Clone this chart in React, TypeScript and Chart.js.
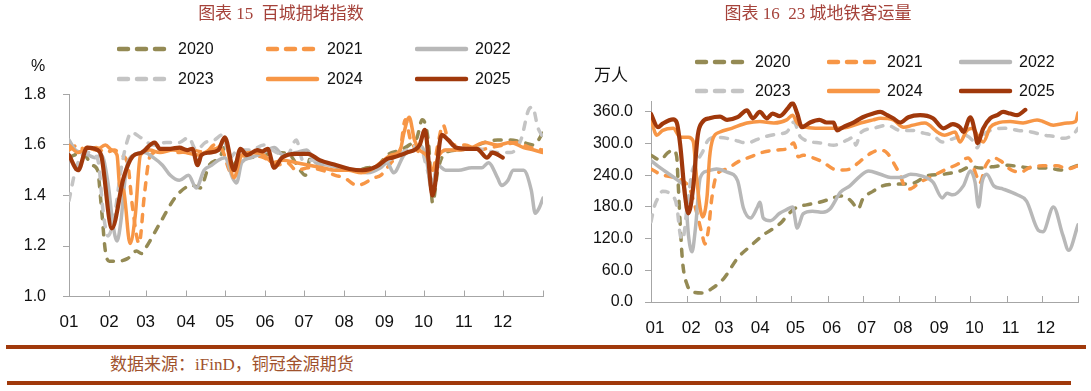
import React, { useEffect, useRef } from 'react';
import { Chart, registerables } from 'chart.js';

Chart.register(...registerables);

// ---------------- data ----------------
const years = ['2020', '2021', '2022', '2023', '2024', '2025'];
const monthStartDays = [0, 31, 59, 90, 120, 151, 181, 212, 243, 273, 304, 334];
const monthLabels = ['01', '02', '03', '04', '05', '06', '07', '08', '09', '10', '11', '12'];
const congestionTicks = [1.0, 1.2, 1.4, 1.6, 1.8];
const metroTicks = [0, 60, 120, 180, 240, 300, 360];

// 百城拥堵指数 (day of year, value)
const cDays2020 = [0, 10, 18, 22, 25, 28, 31, 38, 45, 52, 56, 60, 70, 83, 95, 101, 108, 116, 121, 126, 130, 140, 150, 160, 170, 178, 182, 186, 192, 200, 210, 220, 230, 238, 245, 255, 262, 268, 272, 277, 280, 284, 290, 300, 310, 320, 330, 340, 350, 358, 365];
const c2020 = [1.55, 1.57, 1.52, 1.5, 1.35, 1.18, 1.14, 1.14, 1.15, 1.18, 1.17, 1.2, 1.29, 1.4, 1.44, 1.43, 1.52, 1.55, 1.6, 1.52, 1.54, 1.55, 1.56, 1.57, 1.56, 1.5, 1.48, 1.55, 1.53, 1.52, 1.51, 1.5, 1.51, 1.52, 1.56, 1.58, 1.6, 1.63, 1.7, 1.6, 1.37, 1.5, 1.57, 1.58, 1.59, 1.61, 1.62, 1.62, 1.61, 1.6, 1.65];
const cDays2021 = [0, 7, 14, 21, 28, 35, 40, 45, 49, 54, 58, 62, 66, 75, 85, 95, 105, 112, 118, 125, 132, 140, 150, 160, 168, 175, 185, 195, 205, 212, 222, 235, 240, 248, 255, 259, 263, 268, 274, 280, 284, 288, 292, 298, 305, 315, 325, 335, 345, 355, 365];
const c2021 = [1.58, 1.6, 1.57, 1.59, 1.57, 1.58, 1.56, 1.53, 1.35, 1.21, 1.4, 1.55, 1.57, 1.58, 1.57, 1.58, 1.57, 1.6, 1.58, 1.49, 1.55, 1.56, 1.55, 1.52, 1.53, 1.5, 1.51, 1.5, 1.48, 1.47, 1.44, 1.47, 1.48, 1.53, 1.58, 1.7, 1.62, 1.58, 1.55, 1.5, 1.6, 1.68, 1.62, 1.6, 1.6, 1.58, 1.59, 1.6, 1.61, 1.59, 1.58];
const cDays2022 = [0, 5, 10, 15, 20, 25, 30, 34, 37, 40, 44, 50, 58, 65, 72, 78, 85, 92, 98, 104, 110, 115, 120, 126, 129, 133, 140, 150, 158, 165, 175, 183, 190, 200, 210, 220, 230, 240, 245, 250, 258, 265, 270, 275, 279, 284, 290, 300, 310, 318, 323, 330, 333, 338, 342, 350, 356, 359, 362, 365];
const c2022 = [1.62, 1.58, 1.57, 1.56, 1.55, 1.56, 1.45, 1.28, 1.22, 1.3, 1.5, 1.56, 1.57, 1.55, 1.52, 1.48, 1.46, 1.48, 1.43, 1.5, 1.52, 1.54, 1.55, 1.47, 1.45, 1.53, 1.55, 1.57, 1.59, 1.56, 1.57, 1.58, 1.53, 1.52, 1.51, 1.5, 1.49, 1.51, 1.53, 1.49, 1.56, 1.58, 1.6, 1.55, 1.43, 1.52, 1.5, 1.5, 1.51, 1.51, 1.53, 1.47, 1.44, 1.46, 1.5, 1.5, 1.42, 1.33, 1.35, 1.39];
const cDays2023 = [0, 5, 10, 15, 20, 23, 26, 30, 35, 40, 44, 48, 55, 65, 75, 85, 92, 98, 105, 112, 118, 124, 130, 140, 150, 160, 168, 175, 180, 190, 200, 215, 230, 240, 250, 260, 270, 276, 280, 285, 292, 300, 310, 320, 330, 340, 348, 354, 357, 361, 365];
const c2023 = [1.38, 1.5, 1.56, 1.57, 1.56, 1.52, 1.35, 1.24, 1.32, 1.5, 1.6, 1.65, 1.63, 1.6, 1.61, 1.61, 1.63, 1.58, 1.61, 1.62, 1.64, 1.55, 1.58, 1.58, 1.6, 1.57, 1.56, 1.62, 1.54, 1.54, 1.52, 1.5, 1.5, 1.52, 1.55, 1.58, 1.6, 1.5, 1.45, 1.55, 1.58, 1.58, 1.59, 1.58, 1.57, 1.57, 1.62, 1.74, 1.75, 1.67, 1.63];
const cDays2024 = [0, 7, 14, 21, 28, 33, 37, 39, 42, 47, 51, 55, 62, 70, 80, 90, 100, 108, 115, 120, 127, 133, 140, 150, 157, 165, 175, 185, 195, 205, 215, 225, 232, 240, 248, 255, 258, 262, 266, 270, 275, 280, 285, 290, 300, 310, 320, 330, 340, 350, 358, 365];
const c2024 = [1.6, 1.57, 1.59, 1.58, 1.6, 1.58, 1.56, 1.44, 1.42, 1.21, 1.32, 1.56, 1.58, 1.57, 1.58, 1.57, 1.56, 1.58, 1.59, 1.62, 1.47, 1.56, 1.57, 1.56, 1.53, 1.54, 1.53, 1.52, 1.51, 1.5, 1.5, 1.49, 1.5, 1.53, 1.56, 1.58, 1.65, 1.71, 1.62, 1.58, 1.56, 1.5, 1.56, 1.58, 1.58, 1.59, 1.61, 1.6, 1.61, 1.59, 1.58, 1.57];
const cDays2025 = [0, 7, 14, 22, 25, 33, 42, 49, 56, 66, 70, 78, 85, 91, 95, 99, 102, 108, 115, 120, 127, 132, 137, 145, 149, 153, 158, 164, 175, 184, 193, 206, 216, 226, 237, 245, 249, 260, 270, 274, 280, 287, 292, 298, 306, 314, 322, 326, 334];
const c2025 = [1.56, 1.5, 1.59, 1.58, 1.555, 1.27, 1.47, 1.555, 1.57, 1.61, 1.585, 1.585, 1.59, 1.58, 1.585, 1.52, 1.56, 1.57, 1.58, 1.63, 1.5, 1.585, 1.56, 1.58, 1.575, 1.585, 1.51, 1.55, 1.565, 1.565, 1.54, 1.52, 1.505, 1.5, 1.515, 1.545, 1.55, 1.57, 1.6, 1.66, 1.4, 1.64, 1.62, 1.59, 1.585, 1.585, 1.55, 1.57, 1.55];

// 23城地铁客运量 (day of year, 万人)
const mDays2020 = [0, 8, 14, 19, 22, 23, 25, 27, 31, 36, 44, 53, 62, 74, 85, 96, 105, 112, 116, 125, 133, 144, 153, 162, 168, 172, 177, 181, 190, 198, 207, 224, 236, 250, 264, 273, 282, 291, 305, 316, 327, 339, 350, 359, 365];
const m2020 = [278, 269, 282, 288, 275, 235, 146, 76, 32, 19, 17, 27, 44, 83, 106, 127, 140, 152, 163, 180, 184, 189, 195, 201, 197, 189, 176, 195, 210, 220, 223, 225, 239, 242, 248, 256, 254, 256, 259, 256, 254, 254, 250, 254, 259];
const mDays2021 = [0, 8, 15, 25, 33, 39, 44, 46, 49, 52, 56, 65, 74, 85, 96, 108, 116, 122, 126, 130, 136, 147, 156, 164, 170, 179, 188, 196, 202, 207, 213, 217, 221, 230, 241, 253, 262, 271, 279, 281, 286, 293, 299, 308, 316, 324, 335, 347, 356, 365];
const m2021 = [252, 242, 238, 232, 215, 170, 125, 110, 136, 197, 240, 252, 265, 275, 284, 288, 290, 301, 275, 278, 275, 265, 252, 250, 252, 267, 282, 288, 282, 265, 240, 218, 214, 227, 239, 252, 261, 273, 235, 225, 258, 273, 267, 250, 246, 255, 258, 258, 252, 258];
const mDays2022 = [0, 8, 15, 25, 29, 32, 35, 38, 42, 48, 56, 65, 74, 79, 85, 91, 93, 96, 102, 110, 116, 121, 125, 130, 138, 147, 153, 162, 170, 179, 186, 196, 205, 214, 222, 231, 241, 249, 253, 258, 267, 273, 277, 280, 283, 287, 293, 301, 313, 321, 331, 335, 344, 352, 357, 365];
const m2022 = [268, 254, 243, 227, 212, 127, 95, 140, 235, 248, 252, 246, 230, 178, 159, 180, 189, 159, 154, 168, 175, 180, 140, 167, 172, 170, 176, 208, 220, 239, 248, 242, 236, 236, 242, 239, 227, 197, 206, 203, 220, 248, 227, 180, 227, 242, 220, 214, 203, 191, 136, 133, 180, 127, 98, 146];
const mDays2023 = [0, 3, 6, 10, 16, 22, 25, 27, 31, 35, 39, 44, 49, 56, 65, 74, 82, 91, 99, 108, 116, 119, 122, 128, 145, 156, 168, 173, 175, 179, 190, 202, 213, 224, 233, 242, 249, 259, 268, 276, 279, 282, 290, 302, 314, 325, 336, 344, 353, 362, 365];
const m2023 = [152, 182, 197, 210, 205, 182, 127, 118, 182, 246, 265, 284, 307, 312, 310, 305, 301, 308, 314, 318, 322, 331, 341, 312, 301, 297, 307, 312, 297, 320, 329, 335, 325, 325, 320, 314, 303, 310, 316, 303, 292, 310, 325, 329, 325, 322, 316, 314, 310, 320, 329];
const mDays2024 = [0, 5, 10, 19, 25, 32, 36, 39, 42, 44, 48, 50, 53, 59, 69, 82, 93, 105, 116, 121, 125, 133, 144, 155, 168, 179, 190, 196, 207, 216, 224, 234, 246, 251, 260, 264, 270, 275, 279, 284, 290, 296, 307, 318, 330, 335, 344, 356, 363, 365];
const m2024 = [345, 316, 325, 329, 312, 312, 305, 235, 178, 161, 202, 272, 310, 322, 329, 339, 342, 339, 345, 354, 339, 331, 329, 329, 331, 339, 345, 348, 345, 331, 335, 339, 320, 316, 322, 303, 325, 329, 316, 303, 331, 339, 342, 339, 345, 342, 335, 339, 342, 358];
const mDays2025 = [0, 6, 10, 19, 22, 25, 29, 32, 36, 40, 44, 50, 59, 65, 74, 82, 87, 93, 99, 104, 110, 117, 121, 125, 129, 136, 144, 150, 156, 159, 164, 173, 181, 190, 196, 202, 207, 213, 220, 230, 241, 250, 258, 264, 267, 273, 277, 279, 284, 290, 296, 301, 307, 313, 320];
const m2025 = [356, 331, 338, 346, 340, 297, 203, 168, 216, 316, 341, 348, 351, 345, 350, 363, 348, 360, 348, 357, 352, 367, 377, 357, 331, 340, 345, 340, 340, 325, 331, 340, 350, 357, 360, 354, 348, 340, 350, 354, 348, 329, 337, 331, 322, 350, 322, 301, 329, 348, 354, 360, 357, 354, 364];

const congestionDays = [cDays2020, cDays2021, cDays2022, cDays2023, cDays2024, cDays2025];
const congestionVals = [c2020, c2021, c2022, c2023, c2024, c2025];
const metroDays = [mDays2020, mDays2021, mDays2022, mDays2023, mDays2024, mDays2025];
const metroVals = [m2020, m2021, m2022, m2023, m2024, m2025];

// ---------------- styles ----------------
const lineStyles = [
  { color: '#948A54', dash: [7, 9], width: 3.5 },
  { color: '#F79646', dash: [7, 9], width: 3.5 },
  { color: '#B8B8B8', dash: [] as number[], width: 3.5 },
  { color: '#C4C4C4', dash: [7, 9], width: 3.5 },
  { color: '#F79646', dash: [] as number[], width: 3.5 },
  { color: '#A0380B', dash: [] as number[], width: 4.2 },
];
const AXIS = '#A6A6A6';
const SANS = '"Liberation Sans", Arial, sans-serif';
const CJK = '"Noto Sans CJK SC", sans-serif';

const insideXTicks = {
  id: 'insideXTicks',
  afterDraw(chart: any) {
    const x = chart.scales.x;
    const bottom = chart.chartArea.bottom;
    const ctx = chart.ctx;
    ctx.save();
    ctx.strokeStyle = AXIS;
    ctx.lineWidth = 1;
    [...monthStartDays, 365].forEach((d) => {
      const px = Math.round(x.getPixelForValue(d)) + 0.5;
      ctx.beginPath();
      ctx.moveTo(px, bottom);
      ctx.lineTo(px, bottom - 6);
      ctx.stroke();
    });
    ctx.restore();
  },
};

type PanelOpts = {
  days: number[][];
  vals: number[][];
  yMin: number;
  yMax: number;
  yTicks: number[];
  yWidth: number;
  yPad: number;
  xHeight: number;
  padTop: number;
  padRight: number;
  xLabelOffset: number;
};

function buildConfig(o: PanelOpts): any {
  return {
    type: 'line',
    data: {
      datasets: years.map((y, i) => ({
        label: y,
        data: o.days[i].map((d, k) => ({ x: d, y: o.vals[i][k] })),
        borderColor: lineStyles[i].color,
        borderWidth: lineStyles[i].width,
        borderDash: lineStyles[i].dash,
        borderCapStyle: 'round',
        borderJoinStyle: 'round',
        pointRadius: 0,
        fill: false,
        cubicInterpolationMode: 'monotone',
        order: 5 - i,
      })),
    },
    options: {
      responsive: false,
      maintainAspectRatio: false,
      animation: false,
      events: [],
      layout: { padding: { top: o.padTop, right: o.padRight, left: 0, bottom: 0 } },
      plugins: { legend: { display: false }, tooltip: { enabled: false }, title: { display: false } },
      scales: {
        x: {
          type: 'linear',
          min: 0,
          max: 365,
          afterBuildTicks: (s: any) => {
            s.ticks = monthStartDays.map((v) => ({ value: v }));
          },
          afterFit: (s: any) => {
            s.height = o.xHeight;
          },
          ticks: {
            autoSkip: false,
            maxRotation: 0,
            minRotation: 0,
            padding: 16,
            labelOffset: o.xLabelOffset,
            color: '#111',
            font: { family: SANS, size: 17 },
            callback: (_v: any, idx: number) => monthLabels[idx],
          },
          grid: { display: true, drawOnChartArea: false, drawTicks: false, color: 'rgba(0,0,0,0)' },
          border: { display: true, color: AXIS, width: 1 },
        },
        y: {
          type: 'linear',
          min: o.yMin,
          max: o.yMax,
          afterBuildTicks: (s: any) => {
            s.ticks = o.yTicks.map((v) => ({ value: v }));
          },
          afterFit: (s: any) => {
            s.width = o.yWidth;
          },
          ticks: {
            padding: o.yPad,
            color: '#111',
            font: { family: SANS, size: 16 },
            callback: (v: any) => Number(v).toFixed(1),
          },
          grid: { display: true, drawOnChartArea: false, drawTicks: true, tickLength: 6, color: AXIS },
          border: { display: true, color: AXIS, width: 1 },
        },
      },
    },
    plugins: [insideXTicks],
  };
}

function Panel(props: { left: number; width: number; height: number; opts: PanelOpts }) {
  const ref = useRef<HTMLCanvasElement | null>(null);
  useEffect(() => {
    if (!ref.current) return;
    const chart = new Chart(ref.current, buildConfig(props.opts));
    return () => chart.destroy();
  }, []);
  return (
    <canvas
      ref={ref}
      width={props.width}
      height={props.height}
      style={{ position: 'absolute', left: props.left, top: 0, width: props.width, height: props.height }}
    />
  );
}

function Legend(props: { rows: number[]; sampleX: number[]; textX: number[] }) {
  const items = years.map((y, i) => {
    const row = Math.floor(i / 3);
    const col = i % 3;
    const st = lineStyles[i];
    const cy = props.rows[row];
    const dashed = st.dash.length > 0;
    return (
      <React.Fragment key={y}>
        <svg
          width={54}
          height={10}
          style={{ position: 'absolute', left: props.sampleX[col], top: cy - 5 }}
        >
          <line
            x1={2}
            y1={5}
            x2={dashed ? 48 : 51}
            y2={5}
            stroke={st.color}
            strokeWidth={4.5}
            strokeLinecap="round"
            strokeDasharray={dashed ? '9 9' : undefined}
          />
        </svg>
        <div
          style={{
            position: 'absolute',
            left: props.textX[col],
            top: cy - 10,
            height: 20,
            lineHeight: '20px',
            fontFamily: SANS,
            fontSize: 16,
            color: '#111',
          }}
        >
          {y}
        </div>
      </React.Fragment>
    );
  });
  return <>{items}</>;
}

const titleStyle: React.CSSProperties = {
  position: 'absolute',
  top: 4,
  transform: 'translateX(-50%)',
  whiteSpace: 'pre',
  fontFamily: '"Liberation Serif", "Noto Sans CJK SC", serif',
  fontSize: 17,
  lineHeight: '20px',
  color: '#A5423A',
};

export default function App() {
  const leftOpts: PanelOpts = {
    days: congestionDays,
    vals: congestionVals,
    yMin: 1.0,
    yMax: 1.8,
    yTicks: congestionTicks,
    yWidth: 69,
    yPad: 17,
    xHeight: 43.5,
    padTop: 94.5,
    padRight: 2,
    xLabelOffset: 0,
  };
  const rightOpts: PanelOpts = {
    days: metroDays,
    vals: metroVals,
    yMin: 0,
    yMax: 380,
    yTicks: metroTicks,
    yWidth: 106,
    yPad: 12,
    xHeight: 38,
    padTop: 101.4,
    padRight: 13,
    xLabelOffset: 4,
  };
  return (
    <div
      style={{
        position: 'absolute',
        left: 0,
        top: 0,
        width: 1091,
        height: 391,
        background: '#ffffff',
        overflow: 'hidden',
      }}
    >
      <Panel left={0} width={545} height={340} opts={leftOpts} />
      <Panel left={545} width={546} height={340} opts={rightOpts} />

      <div style={{ ...titleStyle, left: 281 }}>{'图表 15  百城拥堵指数'}</div>
      <div style={{ ...titleStyle, left: 818 }}>{'图表 16  23 城地铁客运量'}</div>

      <div
        style={{
          position: 'absolute',
          left: 31,
          top: 56,
          lineHeight: '20px',
          fontFamily: SANS,
          fontSize: 16,
          color: '#111',
        }}
      >
        %
      </div>
      <div
        style={{
          position: 'absolute',
          left: 594,
          top: 63,
          lineHeight: '22px',
          fontFamily: CJK,
          fontSize: 17,
          color: '#111',
        }}
      >
        万人
      </div>

      <Legend rows={[49, 79]} sampleX={[117, 266, 415]} textX={[178, 327, 475]} />
      <Legend rows={[62, 91]} sampleX={[695, 827, 959]} textX={[755, 887, 1019]} />

      <div style={{ position: 'absolute', left: 6, top: 345, width: 1080, height: 4, background: '#A0390B' }} />
      <div
        style={{
          position: 'absolute',
          left: 110,
          top: 354,
          lineHeight: '22px',
          whiteSpace: 'pre',
          fontFamily: '"Liberation Serif", "Noto Sans CJK SC", serif',
          fontSize: 17,
          color: '#A0522D',
        }}
      >
        {'数据来源：iFinD，铜冠金源期货'}
      </div>
      <div style={{ position: 'absolute', left: 7, top: 381, width: 1064, height: 4, background: '#A0390B' }} />
    </div>
  );
}
